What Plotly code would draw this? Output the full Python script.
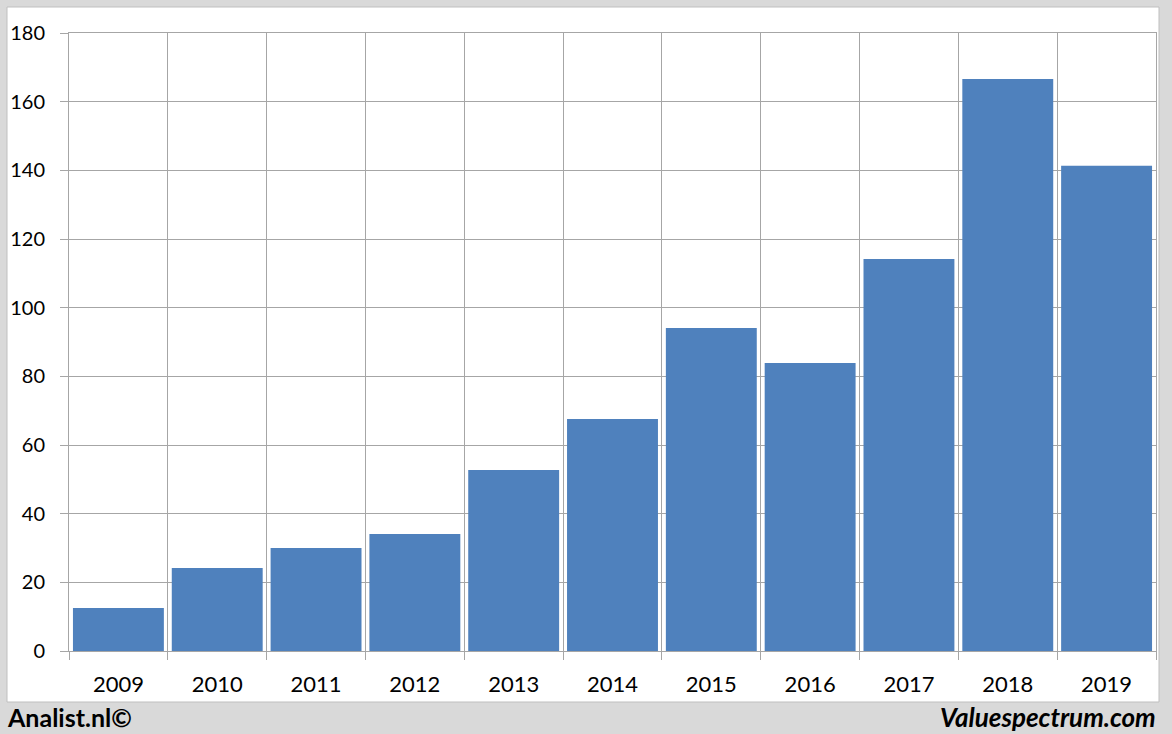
import plotly.graph_objects as go

years = ["2009", "2010", "2011", "2012", "2013", "2014", "2015", "2016", "2017", "2018", "2019"]
values = [12.5, 24.2, 30.0, 34.1, 52.7, 67.6, 94.1, 83.9, 114.2, 166.6, 141.3]
y_ticks = [0, 20, 40, 60, 80, 100, 120, 140, 160, 180]

FONT = "Lato, Calibri, Carlito, 'Open Sans', sans-serif"
GRID = "#a6a6a6"

fig = go.Figure(
    go.Bar(
        x=years,
        y=values,
        marker=dict(color="#4f81bd", line=dict(width=0)),
        hoverinfo="x+y",
    )
)

L, R, T, B = 69, 16, 33, 83
W, H = 1172, 734
pw, ph = W - L - R, H - T - B

def px_x(x):
    return (x - L) / pw

def px_y(y):
    return (H - B - y) / ph

fig.update_layout(
    width=W,
    height=H,
    margin=dict(l=L, r=R, t=T, b=B, pad=0, autoexpand=False),
    paper_bgcolor="#d9d9d9",
    plot_bgcolor="white",
    bargap=0.08,
    showlegend=False,
    font=dict(family=FONT, size=20, color="#000000"),
    xaxis=dict(
        type="category",
        tickson="boundaries",
        ticks="outside",
        ticklen=8,
        tickcolor=GRID,
        showgrid=True,
        gridcolor=GRID,
        gridwidth=1,
        showline=True,
        linecolor=GRID,
        linewidth=1,
        mirror=True,
        automargin=False,
        tickfont=dict(size=22, family=FONT),
        ticklabelstandoff=14,
    ),
    yaxis=dict(
        range=[0, 180],
        tickvals=y_ticks,
        ticks="outside",
        ticklen=8,
        tickcolor=GRID,
        showgrid=True,
        gridcolor=GRID,
        gridwidth=1,
        showline=True,
        linecolor=GRID,
        linewidth=1,
        mirror=True,
        zeroline=False,
        automargin=False,
        tickfont=dict(size=20, family=FONT),
        ticklabelstandoff=11,
    ),
    shapes=[
        dict(
            type="rect",
            xref="paper",
            yref="paper",
            x0=px_x(7),
            x1=px_x(1159),
            y0=px_y(702),
            y1=px_y(7),
            fillcolor="white",
            line=dict(color="#bfbfbf", width=1),
            layer="below",
        )
    ],
    annotations=[
        dict(
            text="<b>Analist.nl©</b>",
            xref="paper",
            yref="paper",
            x=px_x(5),
            y=px_y(717),
            xanchor="left",
            yanchor="middle",
            showarrow=False,
            font=dict(size=25, family=FONT, color="#000000"),
        ),
        dict(
            text="<b><i>Valuespectrum.com</i></b>",
            xref="paper",
            yref="paper",
            x=px_x(1158),
            y=px_y(717),
            xanchor="right",
            yanchor="middle",
            showarrow=False,
            font=dict(size=26, family=FONT, color="#000000"),
        ),
    ],
)

fig.write_html(
    "out.html",
    config={"displayModeBar": False},
    post_script="document.body.style.margin='0';document.body.style.overflow='hidden';",
)
